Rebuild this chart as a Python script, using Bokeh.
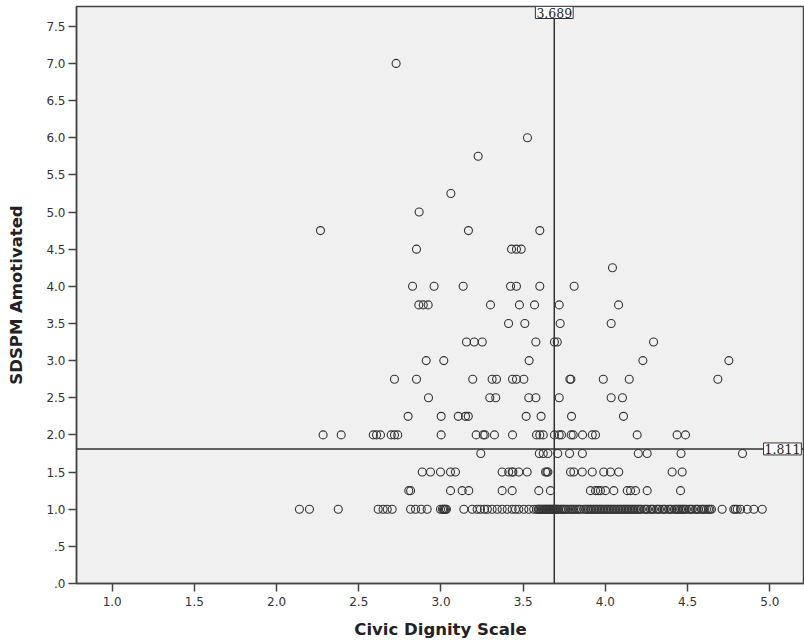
from bokeh.plotting import figure
from bokeh.models import Span, Label, FixedTicker, Range1d
from bokeh.embed import file_html
from bokeh.resources import INLINE

# Civic Dignity Scale values for each SDSPM Amotivated level
level_1_00 = [2.139, 2.200, 2.375, 2.618, 2.648, 2.673, 2.703, 2.815, 2.845, 2.880, 2.916,
              2.997, 3.009, 3.021, 3.033, 3.139, 3.190, 3.220, 3.240, 3.264, 3.282, 3.311,
              3.342, 3.372, 3.403, 3.433, 3.453, 3.473, 3.504, 3.534, 3.564, 3.581, 3.596,
              3.611, 3.623, 3.636, 3.648, 3.660, 3.672, 3.684, 3.696, 3.708, 3.727, 3.745,
              3.763, 3.788, 3.806, 3.828, 3.849, 3.869, 3.891, 3.909, 3.928, 3.946, 3.964,
              3.982, 4.001, 4.019, 4.037, 4.055, 4.074, 4.092, 4.110, 4.128, 4.146, 4.165,
              4.183, 4.201, 4.219, 4.238, 4.256, 4.274, 4.292, 4.311, 4.329, 4.347, 4.365,
              4.384, 4.402, 4.420, 4.438, 4.457, 4.475, 4.493, 4.511, 4.529, 4.548, 4.566,
              4.584, 4.602, 4.627, 4.645, 4.710, 4.781, 4.802, 4.822, 4.863, 4.903, 4.954,
              3.016, 3.027, 3.592, 3.603, 3.617, 3.630, 3.642, 3.654, 3.666, 3.679, 3.690,
              3.702, 3.716, 3.736, 3.754, 3.776, 3.797, 3.817, 3.839, 3.880, 3.900, 3.918,
              3.937, 3.955, 3.973, 3.991, 4.010, 4.028, 4.046, 4.064, 4.083, 4.101, 4.119,
              4.137, 4.156, 4.174, 4.192, 4.210, 4.247, 4.283, 4.320, 4.356, 4.393, 4.429,
              4.447, 4.466, 4.484, 4.520, 4.557, 4.593, 4.615, 4.636, 4.790]
level_1_25 = [2.804, 2.815, 3.058, 3.129, 3.169, 3.372, 3.433, 3.595, 3.666, 3.909, 3.940,
              3.955, 3.970, 4.000, 4.051, 4.133, 4.153, 4.183, 4.254, 4.457]
level_1_50 = [2.886, 2.936, 2.997, 3.058, 3.088, 3.372, 3.412, 3.433, 3.437, 3.473, 3.524,
              3.636, 3.644, 3.650, 3.788, 3.808, 3.859, 3.920, 3.990, 4.031, 4.081, 4.406,
              4.467]
level_1_75 = [3.242, 3.598, 3.622, 3.650, 3.710, 3.782, 3.860, 4.200, 4.254, 4.460, 4.834]
level_2_00 = [2.283, 2.393, 2.588, 2.608, 2.632, 2.697, 2.717, 2.737, 3.001, 3.214, 3.257,
              3.267, 3.325, 3.435, 3.581, 3.601, 3.622, 3.690, 3.719, 3.733, 3.792, 3.804,
              3.861, 3.920, 3.940, 4.193, 4.436, 4.487]
level_2_25 = [2.800, 3.001, 3.105, 3.149, 3.166, 3.518, 3.609, 3.794, 4.110]
level_2_50 = [2.924, 3.297, 3.333, 3.534, 3.577, 3.719, 4.035, 4.104]
level_2_75 = [2.717, 2.851, 3.193, 3.311, 3.338, 3.435, 3.459, 3.504, 3.784, 3.790, 3.987,
              4.145, 4.684]
level_3_00 = [2.910, 3.017, 3.536, 4.228, 4.751]
level_3_25 = [3.155, 3.202, 3.251, 3.577, 3.690, 3.707, 4.293]
level_3_50 = [3.411, 3.510, 3.725, 4.035]
level_3_75 = [2.865, 2.892, 2.922, 3.301, 3.477, 3.569, 3.719, 4.080]
level_4_00 = [2.827, 2.958, 3.135, 3.423, 3.459, 3.601, 3.810]
level_4_25 = [4.043]
level_4_50 = [2.851, 3.429, 3.459, 3.488]
level_4_75 = [2.267, 3.167, 3.601]
level_5_00 = [2.867]
level_5_25 = [3.060]
level_5_75 = [3.226]
level_6_00 = [3.526]
level_7_00 = [2.727]

amotivated_levels = [1.0, 1.25, 1.5, 1.75, 2.0, 2.25, 2.5, 2.75, 3.0, 3.25, 3.5, 3.75,
                     4.0, 4.25, 4.5, 4.75, 5.0, 5.25, 5.75, 6.0, 7.0]
civic_by_level = [level_1_00, level_1_25, level_1_50, level_1_75, level_2_00, level_2_25,
                  level_2_50, level_2_75, level_3_00, level_3_25, level_3_50, level_3_75,
                  level_4_00, level_4_25, level_4_50, level_4_75, level_5_00, level_5_25,
                  level_5_75, level_6_00, level_7_00]

mean_x = 3.689
mean_y = 1.811

x_ticks = [1.0, 1.5, 2.0, 2.5, 3.0, 3.5, 4.0, 4.5, 5.0]
x_tick_labels = ["1.0", "1.5", "2.0", "2.5", "3.0", "3.5", "4.0", "4.5", "5.0"]
y_ticks = [0.0, 0.5, 1.0, 1.5, 2.0, 2.5, 3.0, 3.5, 4.0, 4.5, 5.0, 5.5, 6.0, 6.5, 7.0, 7.5]
y_tick_labels = [".0", ".5", "1.0", "1.5", "2.0", "2.5", "3.0", "3.5", "4.0", "4.5",
                 "5.0", "5.5", "6.0", "6.5", "7.0", "7.5"]

xs, ys = [], []
for lvl, vals in zip(amotivated_levels, civic_by_level):
    for v in vals:
        xs.append(v)
        ys.append(lvl)

y_top = 7.766
p = figure(width=804, height=644, output_backend="svg", toolbar_location=None,
           x_range=Range1d(0.783, 5.211), y_range=Range1d(0.0, y_top),
           min_border_left=76, min_border_right=0, min_border_top=6, min_border_bottom=61)

p.background_fill_color = "#f0f0f0"
p.border_fill_color = "white"
p.outline_line_color = "#444444"
p.outline_line_width = 1.5
p.grid.visible = False

p.scatter(xs, ys, marker="circle", size=8, fill_color=None, line_color="#333333",
          line_width=1.1)

p.add_layout(Span(location=mean_x, dimension="height", line_color="#333333", line_width=1.5))
p.add_layout(Span(location=mean_y, dimension="width", line_color="#333333", line_width=1.5))

p.add_layout(Label(x=mean_x, y=y_top, text=f"{mean_x:.3f}", text_align="center",
                   text_baseline="top", text_font="DejaVu Serif", text_font_size="12.5px",
                   text_color="#222222", background_fill_color="white",
                   border_line_color="#333333", border_line_width=1, padding=1))
p.add_layout(Label(x=4.962, y=mean_y, text=f"{mean_y:.3f}", text_align="left",
                   text_baseline="middle", text_font="DejaVu Serif", text_font_size="12.5px",
                   text_color="#222222", background_fill_color="white",
                   border_line_color="#333333", border_line_width=1, padding=1))

for ax in (p.xaxis[0], p.yaxis[0]):
    ax.axis_line_color = "#444444"
    ax.axis_line_width = 1.5
    ax.major_tick_line_color = "#444444"
    ax.major_tick_line_width = 1.5
    ax.major_tick_out = 8
    ax.major_tick_in = 0
    ax.minor_tick_line_color = None
    ax.major_label_text_font = "DejaVu Sans"
    ax.major_label_text_font_size = "12px"
    ax.major_label_text_color = "#333333"
    ax.axis_label_text_font = "DejaVu Sans"
    ax.axis_label_text_font_style = "bold"
    ax.axis_label_text_font_size = "16.5px"
    ax.axis_label_text_color = "#222222"

p.xaxis.ticker = FixedTicker(ticks=x_ticks)
p.xaxis.major_label_overrides = dict(zip(x_ticks, x_tick_labels))
p.yaxis.ticker = FixedTicker(ticks=y_ticks)
p.yaxis.major_label_overrides = dict(zip(y_ticks, y_tick_labels))

p.xaxis.axis_label = "Civic Dignity Scale"
p.yaxis.axis_label = "SDSPM Amotivated"
p.xaxis.major_label_standoff = 5
p.yaxis.major_label_standoff = 3
p.xaxis.axis_label_standoff = 11
p.yaxis.axis_label_standoff = 17

open("out.html", "w").write(file_html(p, INLINE))
